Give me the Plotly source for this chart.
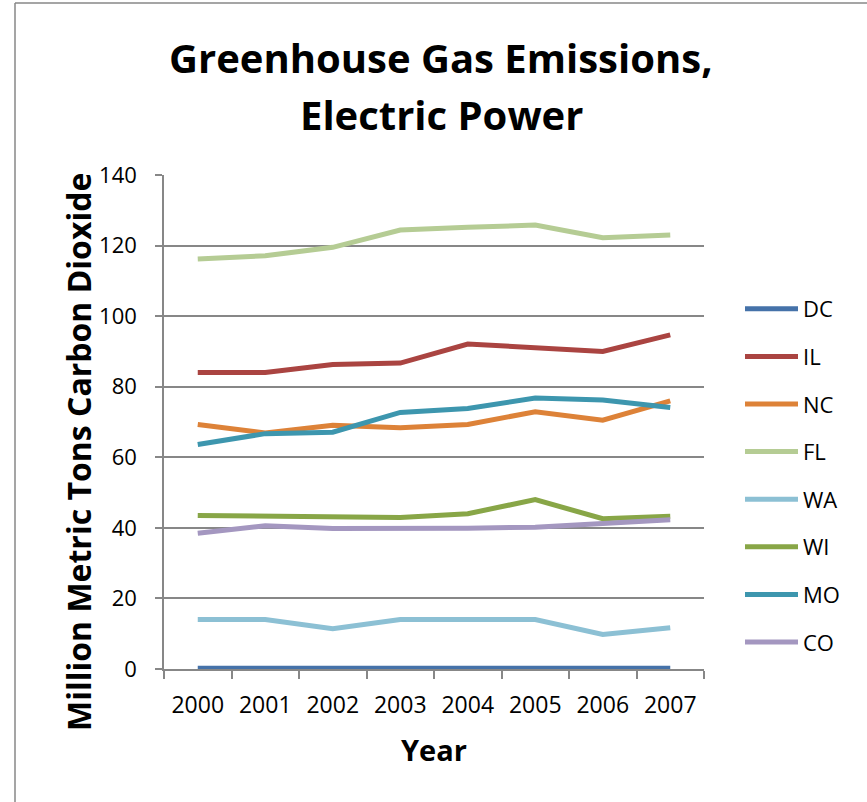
import plotly.graph_objects as go

# Electric power sector CO2 emissions by state (million metric tons)
years = ["2000", "2001", "2002", "2003", "2004", "2005", "2006", "2007"]

states = ["DC", "IL", "NC", "FL", "WA", "WI", "MO", "CO"]

dc = [0.2, 0.2, 0.4, 0.2, 0.2, 0.4, 0.2, 0.2]
il = [84.0, 84.0, 86.3, 86.7, 92.1, 91.1, 90.0, 94.7]
nc = [69.3, 66.9, 69.1, 68.4, 69.3, 72.9, 70.5, 76.0]
fl = [116.2, 117.1, 119.5, 124.4, 125.2, 125.8, 122.2, 123.0]
wa = [14.0, 14.0, 11.4, 14.0, 14.0, 14.0, 9.8, 11.7]
wi = [43.5, 43.3, 43.1, 42.9, 44.0, 48.0, 42.6, 43.3]
mo = [63.6, 66.7, 67.1, 72.7, 73.8, 76.8, 76.2, 74.1]
co = [38.5, 40.6, 39.8, 39.8, 39.9, 40.2, 41.2, 42.3]

series_values = [dc, il, nc, fl, wa, wi, mo, co]

colors = ["#4572A9", "#AA4441", "#DD8238", "#B5CC94",
          "#8CC0D4", "#88A647", "#3D96AE", "#A497C0"]

y_ticks = [0, 20, 40, 60, 80, 100, 120, 140]

FONT = "Open Sans, Lato, sans-serif"
GRID = "#878787"

fig = go.Figure()
for name, vals, col in zip(states, series_values, colors):
    fig.add_trace(go.Scatter(
        x=years, y=vals, name=name, mode="lines",
        legendgroup=name,
        line=dict(color=col, width=5),
    ))

# plot-area geometry used to place titles in paper coordinates
L, R, T, B = 164, 163, 175, 133
W, H = 867, 802
pw, ph = W - L - R, H - T - B


def px(x):
    return (x - L) / pw


def py(y):
    return (H - B - y) / ph


fig.update_layout(
    width=W, height=H,
    margin=dict(l=L, r=R, t=T, b=B),
    paper_bgcolor="white", plot_bgcolor="white",
    font=dict(family=FONT, color="#000000", size=23),
    showlegend=True,
    legend=dict(
        x=px(740), xanchor="left", y=py(288), yanchor="top",
        font=dict(size=22, family=FONT),
        tracegroupgap=16, bgcolor="rgba(0,0,0,0)",
        itemwidth=53,
    ),
    xaxis=dict(
        type="category", range=[-0.5, 7.5],
        tickson="boundaries", ticks="outside", ticklen=8,
        tickcolor=GRID, tickwidth=1.5,
        showline=True, linecolor=GRID, linewidth=1.5,
        showgrid=False, zeroline=False,
        tickfont=dict(size=23, family=FONT),
        ticklabelstandoff=15,
    ),
    yaxis=dict(
        range=[0, 140], tickvals=y_ticks,
        ticks="outside", ticklen=7, tickcolor=GRID, tickwidth=1.5,
        showline=True, linecolor=GRID, linewidth=1.5,
        showgrid=True, gridcolor=GRID, gridwidth=1.5,
        zeroline=False,
        tickfont=dict(size=22, family=FONT),
        ticklabelstandoff=14,
    ),
    annotations=[
        dict(text="<b>Greenhouse Gas Emissions,</b>", x=px(441), y=py(58),
             xref="paper", yref="paper", showarrow=False,
             xanchor="center", yanchor="middle",
             font=dict(size=40, family=FONT)),
        dict(text="<b>Electric Power</b>", x=px(441), y=py(115),
             xref="paper", yref="paper", showarrow=False,
             xanchor="center", yanchor="middle",
             font=dict(size=40, family=FONT)),
        dict(text="<b>Million Metric Tons Carbon Dioxide</b>",
             x=px(78), y=py(452), xref="paper", yref="paper",
             showarrow=False, textangle=-90,
             xanchor="center", yanchor="middle",
             font=dict(size=32, family=FONT)),
        dict(text="<b>Year</b>", x=0.5, y=py(749),
             xref="paper", yref="paper", showarrow=False,
             xanchor="center", yanchor="middle",
             font=dict(size=29, family=FONT)),
    ],
    shapes=[
        # chart-area border (left and top edges visible)
        dict(type="line", xref="paper", yref="paper",
             x0=px(15), x1=px(15), y0=py(3), y1=py(810),
             line=dict(color=GRID, width=1.5)),
        dict(type="line", xref="paper", yref="paper",
             x0=px(15), x1=px(870), y0=py(3), y1=py(3),
             line=dict(color=GRID, width=1.5)),
    ],
)

fig.write_html("out.html")
